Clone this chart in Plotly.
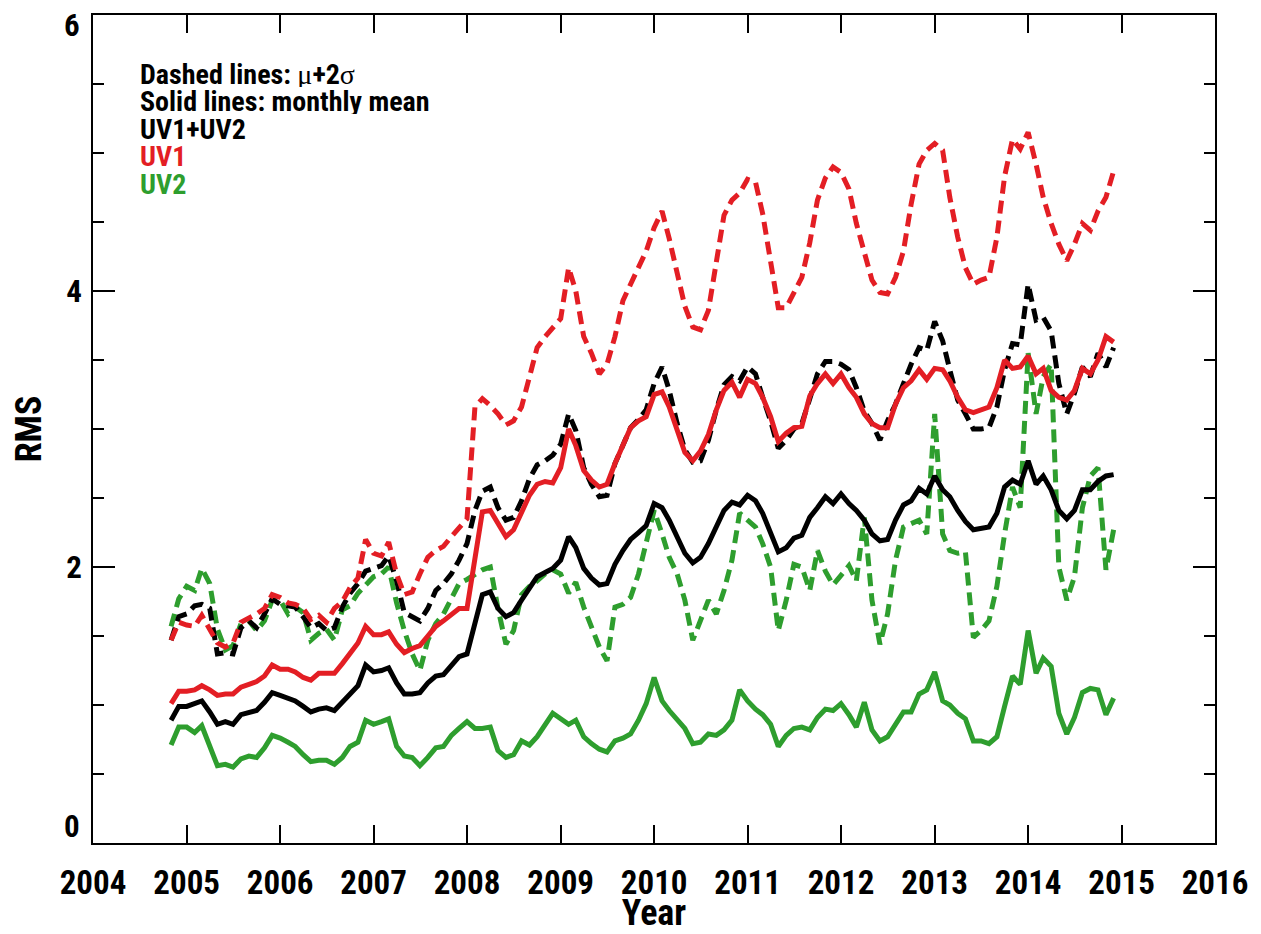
import pandas as pd
import plotly.graph_objects as go

# Monthly samples, Nov 2004 .. Dec 2014
months = pd.date_range("2004-11-01", "2014-12-01", freq="MS")

# UV1+UV2 (black)
uv12_mean = [
    0.89, 0.99, 0.99, 1.01, 1.03, 0.95, 0.86, 0.88, 0.86, 0.93,
    0.95, 0.96, 1.02, 1.09, 1.07, 1.05, 1.03, 0.99, 0.95, 0.97,
    0.98, 0.96, 1.02, 1.09, 1.14, 1.29, 1.24, 1.25, 1.27, 1.16,
    1.08, 1.08, 1.09, 1.16, 1.21, 1.22, 1.28, 1.35, 1.37, 1.58,
    1.80, 1.82, 1.70, 1.64, 1.67, 1.76, 1.84, 1.93, 1.96, 1.99,
    2.05, 2.22, 2.14, 1.99, 1.92, 1.87, 1.88, 2.02, 2.12, 2.20,
    2.25, 2.30, 2.46, 2.43, 2.34, 2.22, 2.10, 2.03, 2.07, 2.17,
    2.30, 2.41, 2.47, 2.45, 2.52, 2.48, 2.39, 2.25, 2.11, 2.14,
    2.21, 2.23, 2.36, 2.43, 2.51, 2.46, 2.53, 2.46, 2.41, 2.34,
    2.24, 2.19, 2.20, 2.34, 2.45, 2.48, 2.57, 2.53, 2.66, 2.56,
    2.51, 2.41, 2.33, 2.27, 2.28, 2.29, 2.39, 2.58, 2.63, 2.60,
    2.77, 2.60, 2.66, 2.56, 2.41, 2.35, 2.41, 2.56, 2.56, 2.62,
    2.66, 2.67,
]
uv12_2sig = [
    1.47, 1.64, 1.66, 1.72, 1.73, 1.70, 1.37, 1.38, 1.37, 1.56,
    1.61, 1.56, 1.66, 1.77, 1.73, 1.72, 1.71, 1.64, 1.56, 1.59,
    1.54, 1.56, 1.71, 1.81, 1.88, 1.97, 1.99, 2.01, 2.08, 1.90,
    1.67, 1.64, 1.61, 1.70, 1.83, 1.88, 1.95, 2.05, 2.17, 2.41,
    2.55, 2.58, 2.43, 2.34, 2.36, 2.48, 2.64, 2.74, 2.77, 2.81,
    2.89, 3.11, 2.99, 2.72, 2.60, 2.51, 2.52, 2.75, 2.89, 3.01,
    3.07, 3.14, 3.33, 3.45, 3.28, 3.04, 2.85, 2.76, 2.77, 2.92,
    3.14, 3.32, 3.38, 3.35, 3.45, 3.40, 3.23, 3.06, 2.86, 2.92,
    3.00, 3.04, 3.22, 3.40, 3.49, 3.49, 3.47, 3.43, 3.30, 3.13,
    3.04, 2.92, 3.06, 3.18, 3.33, 3.47, 3.59, 3.57, 3.78, 3.64,
    3.43, 3.21, 3.11, 3.00, 3.00, 3.01, 3.16, 3.43, 3.62, 3.61,
    4.05, 3.79, 3.81, 3.71, 3.33, 3.11, 3.26, 3.45, 3.38, 3.55,
    3.45, 3.59,
]

# UV1 (red)
uv1_mean = [
    1.01, 1.10, 1.10, 1.11, 1.14, 1.11, 1.07, 1.08, 1.08, 1.13,
    1.15, 1.17, 1.21, 1.29, 1.26, 1.26, 1.24, 1.20, 1.18, 1.23,
    1.23, 1.23, 1.30, 1.38, 1.45, 1.57, 1.51, 1.51, 1.53, 1.44,
    1.38, 1.41, 1.43, 1.50, 1.57, 1.61, 1.66, 1.70, 1.70, 2.05,
    2.40, 2.41, 2.31, 2.22, 2.27, 2.39, 2.52, 2.60, 2.62, 2.61,
    2.72, 3.00, 2.88, 2.70, 2.63, 2.58, 2.60, 2.75, 2.89, 3.01,
    3.06, 3.09, 3.25, 3.27, 3.16, 2.99, 2.83, 2.77, 2.84, 2.96,
    3.14, 3.28, 3.34, 3.23, 3.36, 3.33, 3.23, 3.09, 2.91, 2.97,
    3.01, 3.02, 3.24, 3.33, 3.40, 3.33, 3.40, 3.30, 3.23, 3.11,
    3.04, 3.01, 3.01, 3.18, 3.30, 3.35, 3.43, 3.36, 3.44, 3.43,
    3.35, 3.23, 3.14, 3.12, 3.14, 3.16, 3.30, 3.50, 3.44, 3.45,
    3.53, 3.40, 3.44, 3.28, 3.23, 3.21, 3.28, 3.44, 3.40, 3.50,
    3.67, 3.63,
]
uv1_2sig = [
    1.47, 1.60, 1.58, 1.57, 1.65, 1.55, 1.45, 1.42, 1.45, 1.60,
    1.63, 1.66, 1.70, 1.80, 1.78, 1.74, 1.73, 1.70, 1.62, 1.65,
    1.60, 1.70, 1.75, 1.85, 1.92, 2.20, 2.10, 2.08, 2.18, 1.95,
    1.80, 1.82, 1.95, 2.07, 2.12, 2.15, 2.22, 2.29, 2.35, 3.16,
    3.22, 3.17, 3.11, 3.03, 3.06, 3.16, 3.38, 3.59, 3.67, 3.74,
    3.80, 4.17, 4.00, 3.67, 3.55, 3.40, 3.47, 3.67, 3.93, 4.05,
    4.17, 4.29, 4.46, 4.58, 4.38, 4.13, 3.89, 3.74, 3.72, 3.86,
    4.22, 4.55, 4.66, 4.71, 4.81, 4.79, 4.56, 4.22, 3.88, 3.88,
    3.98, 4.10, 4.35, 4.66, 4.82, 4.90, 4.86, 4.74, 4.49, 4.27,
    4.08, 3.99, 3.98, 4.10, 4.29, 4.63, 4.92, 5.02, 5.07, 5.02,
    4.68, 4.39, 4.17, 4.05, 4.08, 4.10, 4.39, 4.83, 5.10, 5.03,
    5.15, 4.92, 4.68, 4.49, 4.34, 4.22, 4.34, 4.49, 4.44, 4.58,
    4.68, 4.87,
]

# UV2 (green)
uv2_mean = [
    0.71, 0.84, 0.84, 0.80, 0.85, 0.70, 0.56, 0.57, 0.55, 0.61,
    0.63, 0.62, 0.69, 0.78, 0.76, 0.73, 0.70, 0.64, 0.59, 0.60,
    0.60, 0.57, 0.62, 0.70, 0.73, 0.89, 0.86, 0.88, 0.90, 0.70,
    0.63, 0.62, 0.56, 0.62, 0.69, 0.70, 0.78, 0.83, 0.88, 0.83,
    0.83, 0.84, 0.67, 0.62, 0.64, 0.74, 0.71, 0.77, 0.85, 0.94,
    0.90, 0.86, 0.89, 0.77, 0.72, 0.68, 0.66, 0.74, 0.76, 0.79,
    0.89, 1.01, 1.20, 1.03, 0.96, 0.89, 0.83, 0.72, 0.73, 0.79,
    0.78, 0.82, 0.89, 1.11, 1.03, 0.97, 0.93, 0.86, 0.70, 0.78,
    0.83, 0.84, 0.82, 0.91, 0.97, 0.96, 1.01, 0.93, 0.84, 1.02,
    0.82, 0.74, 0.77, 0.86, 0.95, 0.95, 1.08, 1.11, 1.24, 1.03,
    1.00, 0.94, 0.90, 0.74, 0.74, 0.72, 0.77, 0.99, 1.21, 1.15,
    1.54, 1.23, 1.34, 1.28, 0.94, 0.79, 0.91, 1.09, 1.12, 1.11,
    0.93, 1.05,
]
uv2_2sig = [
    1.57, 1.77, 1.86, 1.83, 1.99, 1.88, 1.55, 1.40, 1.43, 1.59,
    1.61, 1.54, 1.61, 1.76, 1.76, 1.66, 1.71, 1.67, 1.47, 1.52,
    1.55, 1.47, 1.69, 1.72, 1.81, 1.87, 1.93, 1.95, 2.00, 1.74,
    1.54, 1.37, 1.25, 1.47, 1.59, 1.66, 1.77, 1.88, 1.91, 1.95,
    1.98, 2.00, 1.70, 1.44, 1.54, 1.80, 1.86, 1.90, 1.95, 1.98,
    1.95, 1.81, 1.89, 1.71, 1.57, 1.42, 1.32, 1.71, 1.73, 1.78,
    1.95, 2.19, 2.41, 2.24, 2.07, 1.95, 1.76, 1.47, 1.61, 1.76,
    1.66, 1.83, 2.05, 2.39, 2.34, 2.29, 2.17, 2.00, 1.54, 1.76,
    2.02, 2.00, 1.83, 2.12, 1.97, 1.87, 1.94, 2.01, 1.90, 2.36,
    1.76, 1.44, 1.66, 2.05, 2.29, 2.31, 2.34, 2.24, 3.11, 2.24,
    2.12, 2.10, 2.11, 1.49, 1.54, 1.61, 1.86, 2.24, 2.58, 2.43,
    3.55, 3.11, 3.38, 3.47, 2.00, 1.76, 1.93, 2.43, 2.66, 2.72,
    1.98, 2.27,
]

# y-axis labels; the end labels are drawn separately, kept inside the frame
y_ticks = [0, 2, 4, 6]
y_labels = ["0", "2", "4", "6"]

BLACK = "#000000"
RED = "#e31e24"
GREEN = "#2e9e2e"
DASH = "13px,7px"
FONT = "Roboto Condensed, Roboto, Liberation Sans, Arial, sans-serif"
GREEK = "font-family:Liberation Serif;font-weight:normal"

series = [
    (uv2_2sig, GREEN, DASH),
    (uv12_2sig, BLACK, DASH),
    (uv1_2sig, RED, DASH),
    (uv2_mean, GREEN, "solid"),
    (uv12_mean, BLACK, "solid"),
    (uv1_mean, RED, "solid"),
]

fig = go.Figure()
for vals, col, dash in series:
    fig.add_trace(go.Scatter(
        x=months, y=vals, mode="lines",
        line=dict(color=col, width=5, dash=dash),
        showlegend=False, hoverinfo="skip",
    ))

# Text key in the upper left corner
key_lines = [
    (f"Dashed lines: <span style='{GREEK}'>μ</span>+2<span style='{GREEK}'>σ</span>", BLACK),
    ("Solid lines: monthly mean", BLACK),
    ("UV1+UV2", BLACK),
    ("UV1", RED),
    ("UV2", GREEN),
]
for k, (txt, col) in enumerate(key_lines):
    fig.add_annotation(
        xref="paper", yref="paper", x=0.040, y=0.929 - k * 0.0332,
        xanchor="left", yanchor="middle", showarrow=False, height=26,
        text=txt, font=dict(family=FONT, size=28, color=col, weight="bold"),
    )

xtick_font = dict(family=FONT, size=33, color="black", weight="bold")
ytick_font = dict(family=FONT, size=31, color="black", weight="bold")
title_font = dict(family=FONT, size=36, color="black", weight="bold")

# Bottom and top y labels sit flush with the frame edges
for val, lab, anchor in ((y_ticks[0], y_labels[0], "bottom"), (y_ticks[-1], y_labels[-1], "top")):
    fig.add_annotation(
        xref="paper", yref="y", x=-0.0095, y=val,
        xanchor="right", yanchor=anchor, showarrow=False,
        yshift=-4 if anchor == "bottom" else 10,
        text=lab, font=ytick_font,
    )

fig.update_xaxes(
    type="date", range=["2004-01-01", "2016-01-01"],
    tick0="2004-01-01", dtick="M12", tickformat="%Y",
    ticks="inside", ticklen=18, tickwidth=2, tickcolor="black",
    showline=True, linewidth=2, linecolor="black", mirror="ticks",
    showgrid=False, zeroline=False, automargin=False,
    tickfont=xtick_font, ticklabelstandoff=9,
    title=dict(text="Year", font=title_font, standoff=8),
)
fig.update_yaxes(
    range=[0, 6.001], tickvals=y_ticks,
    ticktext=[""] + y_labels[1:-1] + [""],
    ticks="inside", ticklen=22, tickwidth=2, tickcolor="black",
    minor=dict(dtick=0.5, ticks="inside", ticklen=11, tickwidth=2, tickcolor="black"),
    showline=True, linewidth=2, linecolor="black", mirror="ticks",
    showgrid=False, zeroline=False, automargin=False,
    tickfont=ytick_font, ticklabelstandoff=3,
    title=dict(text="RMS", font=title_font, standoff=14),
)
fig.update_layout(
    width=1261, height=934,
    margin=dict(l=93, r=46, t=15, b=91),
    paper_bgcolor="white", plot_bgcolor="white",
)
fig.write_html("out.html")
